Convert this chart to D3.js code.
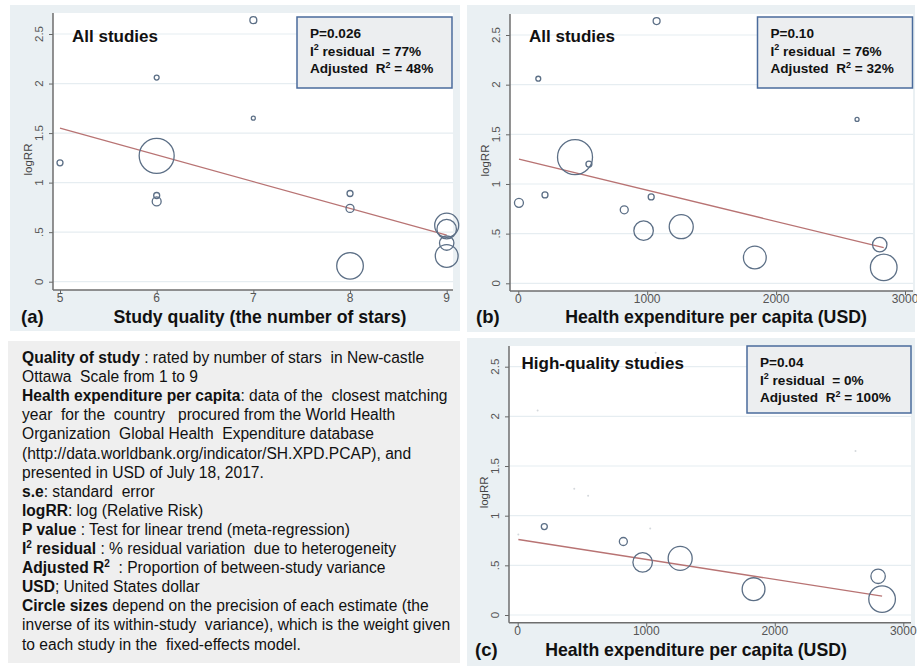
<!DOCTYPE html>
<html>
<head>
<meta charset="utf-8">
<script src="https://cdn.jsdelivr.net/npm/d3@7"></script>
<style>
  body { margin: 0; background: #fff; }
  svg { display: block; font-family: "Liberation Sans", Arial, sans-serif; }
  text { white-space: pre; }
</style>
</head>
<body>
<svg id="fig" width="917" height="668"></svg>
<script>
// Studies (one entry per study, same order in every array)
var studyLogRR       = [2.64, 2.06, 1.65, 1.27, 1.20, 0.89, 0.87, 0.81, 0.74, 0.57, 0.53, 0.39, 0.26, 0.16];
var studyStars       = [7, 6, 7, 6, 5, 8, 6, 6, 8, 9, 9, 9, 9, 8];
var studyExpenditure = [1073, 155, 2628, 440, 548, 207, 1031, 5, 822, 1264, 972, 2804, 1835, 2835];
var studyWeight      = [12, 6, 4, 306, 9, 9, 9, 20, 16, 144, 95, 52, 130, 177];

// Fitted meta-regression lines [x, logRR]
var fitStars   = [[5, 1.55], [9, 0.47]];
var fitExpAll  = [[5, 1.25], [2835, 0.36]];
var fitExpHigh = [[5, 0.76], [2835, 0.19]];

// Tick labels
var yTicks     = [0, 0.5, 1, 1.5, 2, 2.5];
var starTicks  = [5, 6, 7, 8, 9];
var expTicks   = [0, 1000, 2000, 3000];

// Stats boxes
var statsA = [["P=0.026"], ["I", "2", " residual  = 77%"], ["Adjusted  R", "2", " = 48%"]];
var statsB = [["P=0.10"],  ["I", "2", " residual  = 76%"], ["Adjusted  R", "2", " = 32%"]];
var statsC = [["P=0.04"],  ["I", "2", " residual  = 0%"],  ["Adjusted  R", "2", " = 100%"]];

var studies = studyLogRR.map(function(v, i) {
    return {logrr: v, stars: studyStars[i], exp: studyExpenditure[i], w: studyWeight[i]};
});

var svg = d3.select('#fig');
var rScale = d3.scaleSqrt().domain([0, d3.max(studyWeight)]).range([0, 17.5]);

var circleColor = '#5c6f86';
var lineColor = '#b87373';

function yLabel(v) {
    // Stata style: ".5" instead of "0.5"
    return String(v).replace(/^0\./, '.');
}

function draw_panel(p) {
    var g = svg.append('g');
    // outer panel background
    g.append('rect')
        .attr('x', p.bg[0]).attr('y', p.bg[1])
        .attr('width', p.bg[2]).attr('height', p.bg[3])
        .attr('fill', '#eaf0f3');
    // white plot region
    g.append('rect')
        .attr('x', p.plot.left).attr('y', p.plot.top)
        .attr('width', p.plot.right - p.plot.left)
        .attr('height', p.plot.bottom - p.plot.top)
        .attr('fill', '#fff');

    var x = d3.scaleLinear().domain(p.xDomain).range(p.xRange);
    var y = d3.scaleLinear().domain([0, 2.5]).range(p.yRange);

    // gridlines
    g.selectAll('.grid').data(yTicks).enter().append('line')
        .attr('x1', p.plot.left).attr('x2', p.plot.right)
        .attr('y1', function(d) { return y(d); })
        .attr('y2', function(d) { return y(d); })
        .attr('stroke', '#e6edf1').attr('stroke-width', 1.2);

    // y axis
    var yAxis = g.append('g')
        .attr('transform', 'translate(' + p.plot.left + ',0)')
        .call(d3.axisLeft(y).tickValues(yTicks).tickSize(4).tickFormat(function() { return ''; }));
    // x axis
    var xAxis = g.append('g')
        .attr('transform', 'translate(0,' + p.plot.bottom + ')')
        .call(d3.axisBottom(x).tickValues(p.xTicks).tickSize(4).tickFormat(function() { return ''; }));
    [yAxis, xAxis].forEach(function(a) {
        a.select('.domain').remove();
        a.selectAll('line').attr('stroke', '#666').attr('stroke-width', 1);
    });
    g.append('line')
        .attr('x1', p.plot.left).attr('x2', p.plot.left)
        .attr('y1', p.plot.top).attr('y2', p.plot.bottom)
        .attr('stroke', '#6e6e6e').attr('stroke-width', 1.5);
    g.append('line')
        .attr('x1', p.plot.left).attr('x2', p.plot.right)
        .attr('y1', p.plot.bottom).attr('y2', p.plot.bottom)
        .attr('stroke', '#6e6e6e').attr('stroke-width', 1.5);

    // rotated y tick labels
    g.selectAll('.ylab').data(yTicks).enter().append('text')
        .attr('transform', function(d) { return 'translate(' + (p.plot.left - 10) + ',' + y(d) + ') rotate(-90)'; })
        .attr('text-anchor', 'middle')
        .attr('font-size', 11.5)
        .attr('fill', '#555')
        .text(yLabel);
    // x tick labels
    g.selectAll('.xlab').data(p.xTicks).enter().append('text')
        .attr('x', function(d) { return x(d); })
        .attr('y', p.plot.bottom + 12)
        .attr('text-anchor', 'middle')
        .attr('font-size', 12)
        .attr('fill', '#555')
        .text(function(d) { return d; });

    // y title
    g.append('text')
        .attr('transform', 'translate(' + (p.plot.left - 21) + ',' + ((p.plot.top + p.plot.bottom) / 2 + 8) + ') rotate(-90)')
        .attr('text-anchor', 'middle')
        .attr('font-size', 11.5)
        .attr('fill', '#444')
        .text('logRR');

    // faint dots for studies left out of the fit
    if (p.faint) {
        g.selectAll('.faint').data(p.faint).enter().append('circle')
            .attr('cx', function(d) { return x(d[p.xKey]); })
            .attr('cy', function(d) { return y(d.logrr); })
            .attr('r', 1)
            .attr('fill', '#d4d8dc');
    }

    // fitted line
    g.append('line')
        .attr('x1', x(p.fit[0][0])).attr('y1', y(p.fit[0][1]))
        .attr('x2', x(p.fit[1][0])).attr('y2', y(p.fit[1][1]))
        .attr('stroke', lineColor).attr('stroke-width', 1.3);

    // weighted circles
    g.selectAll('.pt').data(p.points).enter().append('circle')
        .attr('cx', function(d) { return x(d[p.xKey]); })
        .attr('cy', function(d) { return y(d.logrr); })
        .attr('r', function(d) { return Math.max(2, rScale(d.w)); })
        .attr('fill', 'none')
        .attr('stroke', circleColor)
        .attr('stroke-width', 1.3);

    // panel title
    g.append('text')
        .attr('x', p.title[1]).attr('y', p.title[2])
        .attr('font-size', 17).attr('font-weight', 'bold').attr('fill', '#111')
        .text(p.title[0]);

    // stats box
    var sb = p.statsBox;
    g.append('rect')
        .attr('x', sb[0]).attr('y', sb[1]).attr('width', sb[2]).attr('height', sb[3])
        .attr('fill', '#eceef0').attr('stroke', '#4a6b9c').attr('stroke-width', 1.5);
    p.stats.forEach(function(parts, i) {
        var t = g.append('text')
            .attr('x', sb[0] + 13).attr('y', sb[1] + 21 + i * 17.5)
            .attr('font-size', 13.6).attr('font-weight', 'bold').attr('fill', '#111');
        parts.forEach(function(s, j) {
            var ts = t.append('tspan').text(s);
            if (j === 1) ts.attr('font-size', 9).attr('dy', -5.5);
            if (j === 2) ts.attr('dy', 5.5);
        });
    });

    // letter + x title
    g.append('text')
        .attr('x', p.letter[1]).attr('y', p.letter[2])
        .attr('font-size', 18.5).attr('font-weight', 'bold').attr('fill', '#111')
        .text(p.letter[0]);
    g.append('text')
        .attr('x', p.xTitle[1]).attr('y', p.xTitle[2])
        .attr('text-anchor', 'middle')
        .attr('font-size', 17.7).attr('font-weight', 'bold').attr('fill', '#111')
        .text(p.xTitle[0]);
}

var highQ = studies.filter(function(d) { return d.stars >= 8; });
var lowQ = studies.filter(function(d) { return d.stars < 8; });

draw_panel({
    bg: [10, 5, 450, 326],
    plot: {left: 53, right: 453, top: 13, bottom: 290},
    xDomain: [5, 9], xRange: [60, 446.7], yRange: [281.7, 34],
    xTicks: starTicks, xKey: 'stars',
    points: studies, fit: fitStars,
    title: ['All studies', 72, 42],
    statsBox: [297, 17, 155, 71], stats: statsA,
    letter: ['(a)', 21, 323],
    xTitle: ['Study quality (the number of stars)', 260, 323]
});

draw_panel({
    bg: [467, 5, 448, 327],
    plot: {left: 510, right: 913, top: 14, bottom: 291},
    xDomain: [0, 3000], xRange: [518.3, 905], yRange: [283.3, 35],
    xTicks: expTicks, xKey: 'exp',
    points: studies, fit: fitExpAll,
    title: ['All studies', 529, 42],
    statsBox: [757.5, 17, 155, 71], stats: statsB,
    letter: ['(b)', 476, 323],
    xTitle: ['Health expenditure per capita (USD)', 716, 323]
});

draw_panel({
    bg: [467, 338, 448, 328],
    plot: {left: 509, right: 911, top: 346, bottom: 622.7},
    xDomain: [0, 3000], xRange: [517.7, 903.3], yRange: [615, 366.7],
    xTicks: expTicks, xKey: 'exp',
    points: highQ, faint: lowQ, fit: fitExpHigh,
    title: ['High-quality studies', 521.5, 369],
    statsBox: [747, 346, 164, 67], stats: statsC,
    letter: ['(c)', 475, 656],
    xTitle: ['Health expenditure per capita (USD)', 696, 656]
});

// Notes panel
var notes = [
    [['Quality of study', 1], [' : rated by number of stars  in New-castle', 0]],
    [['Ottawa  Scale from 1 to 9', 0]],
    [['Health expenditure per capita', 1], [': data of the  closest matching', 0]],
    [['year  for the  country   procured from the World Health', 0]],
    [['Organization  Global Health  Expenditure database', 0]],
    [['(http://data.worldbank.org/indicator/SH.XPD.PCAP), and', 0]],
    [['presented in USD of July 18, 2017.', 0]],
    [['s.e', 1], [': standard  error', 0]],
    [['logRR', 1], [': log (Relative Risk)', 0]],
    [['P value', 1], [' : Test for linear trend (meta-regression)', 0]],
    [['I', 1], ['2', 2], [' residual', 1], [' : % residual variation  due to heterogeneity', 0]],
    [['Adjusted R', 1], ['2', 2], ['  : Proportion of between-study variance', 0]],
    [['USD', 1], ['; United States dollar', 0]],
    [['Circle sizes', 1], [' depend on the precision of each estimate (the', 0]],
    [['inverse of its within-study  variance), which is the weight given', 0]],
    [['to each study in the  fixed-effects model.', 0]]
];

svg.append('rect')
    .attr('x', 8).attr('y', 341).attr('width', 452).attr('height', 322)
    .attr('fill', '#efefef');

var notesG = svg.append('g');
notes.forEach(function(line, i) {
    var t = notesG.append('text')
        .attr('x', 22).attr('y', 363 + i * 19.1)
        .attr('font-size', 15.6).attr('fill', '#111');
    var prevSup = false;
    line.forEach(function(seg) {
        var ts = t.append('tspan').text(seg[0]);
        if (seg[1] >= 1) ts.attr('font-weight', 'bold');
        if (seg[1] === 2) { ts.attr('font-size', 10).attr('dy', -6); prevSup = true; }
        else if (prevSup) { ts.attr('dy', 6); prevSup = false; }
    });
    // keep lines inside the note width like the original
    var w = t.node().getComputedTextLength();
    if (w > 434) t.attr('textLength', 434).attr('lengthAdjust', 'spacingAndGlyphs');
});
</script>
</body>
</html>
